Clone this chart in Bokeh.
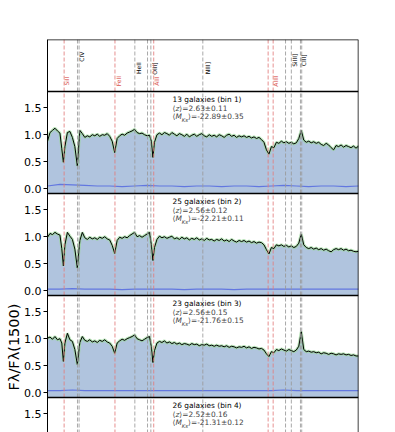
import math
from bokeh.plotting import figure
from bokeh.models import Range1d, Label, Span, FixedTicker, ColumnDataSource, Title
from bokeh.transform import dodge
from bokeh.embed import file_html
from bokeh.resources import INLINE
from bokeh.core.properties import value

# ---------------- data ----------------
wave = [1500, 1504, 1508, 1512, 1516, 1520, 1523, 1525.5, 1528, 1532,
        1536, 1540, 1544, 1548, 1552, 1556, 1560, 1564, 1568, 1572,
        1576, 1580, 1584, 1588, 1592, 1596, 1600, 1604, 1608, 1612,
        1616, 1620, 1624, 1628, 1632, 1636, 1640, 1644, 1648, 1652,
        1656, 1660, 1664, 1667, 1669.5, 1672, 1676, 1680, 1684, 1688,
        1692, 1696, 1700, 1704, 1708, 1712, 1716, 1720, 1724, 1728,
        1732, 1736, 1740, 1744, 1748, 1752, 1756, 1760, 1764, 1768,
        1772, 1776, 1780, 1784, 1788, 1792, 1796, 1800, 1804, 1808,
        1812, 1816, 1820, 1824, 1828, 1832, 1836, 1840, 1844, 1848,
        1852, 1856, 1860, 1864, 1868, 1872, 1876, 1880, 1884, 1888,
        1892, 1896, 1900, 1904, 1908, 1912, 1916, 1920, 1924, 1928,
        1932, 1936, 1940, 1944, 1948, 1952, 1956, 1960, 1964, 1968,
        1972, 1976, 1980, 1984, 1988, 1992, 1996, 2000]

flux_bin1 = [0.88, 1.04, 1.08, 1.12, 1.07, 1.03, 0.74, 0.49, 0.78, 1.04,
             1.06, 0.95, 0.78, 0.42, 1.08, 1.02, 0.95, 0.98, 0.96, 1.00,
             0.98, 1.01, 0.97, 1.00, 0.99, 1.02, 0.97, 0.88, 0.67, 0.93,
             0.98, 1.01, 0.99, 1.03, 1.05, 1.07, 1.10, 1.04, 1.02, 1.03,
             1.00, 0.98, 0.99, 0.88, 0.58, 0.86, 1.00, 1.03, 1.00, 1.04,
             1.02, 0.99, 1.04, 1.01, 0.98, 1.02, 1.00, 0.97, 1.01, 0.96,
             0.99, 1.01, 0.97, 1.00, 1.02, 0.98, 0.96, 1.00, 0.97, 0.99,
             0.96, 1.00, 0.98, 0.95, 0.99, 1.01, 0.97, 0.99, 0.95, 0.98,
             0.96, 0.98, 0.95, 0.97, 0.94, 0.96, 0.93, 0.95, 0.91, 0.86,
             0.72, 0.64, 0.78, 0.76, 0.86, 0.84, 0.88, 0.85, 0.87, 0.84,
             0.86, 0.83, 0.85, 0.93, 1.08, 0.90, 0.86, 0.88, 0.85, 0.87,
             0.84, 0.86, 0.82, 0.80, 0.84, 0.81, 0.76, 0.72, 0.80, 0.78,
             0.81, 0.77, 0.80, 0.78, 0.76, 0.79, 0.75, 0.79]

flux_bin2 = [0.99, 1.06, 1.04, 1.08, 1.05, 1.03, 0.78, 0.46, 0.85, 1.08,
             1.01, 0.95, 0.77, 0.42, 0.93, 1.08, 0.98, 0.95, 0.99, 0.96,
             0.98, 0.95, 0.99, 0.97, 1.00, 0.96, 0.94, 0.84, 0.69, 0.93,
             0.99, 0.97, 1.00, 0.98, 1.02, 1.05, 1.08, 1.00, 1.02, 0.99,
             1.02, 1.05, 1.08, 0.85, 0.56, 0.80, 0.95, 1.01, 0.98, 1.00,
             0.97, 0.99, 1.01, 0.96, 0.98, 0.95, 0.99, 0.96, 0.98, 0.94,
             0.97, 0.95, 0.98, 0.94, 0.96, 0.93, 0.97, 0.94, 0.95, 0.92,
             0.95, 0.93, 0.96, 0.92, 0.94, 0.91, 0.95, 0.92, 0.90, 0.93,
             0.91, 0.93, 0.90, 0.92, 0.89, 0.91, 0.88, 0.90, 0.89, 0.85,
             0.76, 0.68, 0.80, 0.78, 0.85, 0.83, 0.85, 0.82, 0.84, 0.81,
             0.83, 0.80, 0.82, 0.88, 1.05, 0.85, 0.80, 0.78, 0.80, 0.77,
             0.79, 0.76, 0.78, 0.75, 0.77, 0.74, 0.72, 0.76, 0.78, 0.76,
             0.78, 0.75, 0.77, 0.74, 0.75, 0.73, 0.72, 0.73]

flux_bin3 = [1.01, 1.03, 0.99, 1.04, 0.98, 1.00, 0.92, 0.58, 0.92, 1.10,
             0.98, 0.95, 0.80, 0.52, 0.93, 1.04, 0.97, 0.95, 0.98, 0.94,
             0.96, 0.93, 0.97, 0.95, 0.98, 0.94, 0.92, 0.86, 0.73, 0.92,
             0.96, 0.99, 0.97, 1.00, 1.02, 1.04, 1.07, 1.00, 0.98, 0.96,
             0.99, 1.02, 1.04, 0.85, 0.56, 0.78, 0.92, 0.95, 0.93, 0.96,
             0.92, 0.94, 0.91, 0.93, 0.90, 0.92, 0.89, 0.91, 0.90, 0.88,
             0.91, 0.89, 0.90, 0.87, 0.89, 0.88, 0.90, 0.87, 0.88, 0.86,
             0.88, 0.86, 0.87, 0.85, 0.87, 0.84, 0.86, 0.85, 0.83, 0.85,
             0.84, 0.86, 0.83, 0.85, 0.82, 0.84, 0.83, 0.81, 0.82, 0.79,
             0.72, 0.67, 0.76, 0.74, 0.80, 0.78, 0.81, 0.79, 0.77, 0.80,
             0.78, 0.76, 0.79, 0.86, 1.13, 0.80, 0.76, 0.77, 0.75, 0.76,
             0.74, 0.75, 0.72, 0.74, 0.73, 0.71, 0.73, 0.72, 0.70, 0.72,
             0.71, 0.72, 0.70, 0.71, 0.69, 0.70, 0.68, 0.68]

noise_wave = [1500, 1520, 1540, 1560, 1580, 1600, 1620, 1640, 1660, 1680,
              1700, 1720, 1740, 1760, 1780, 1800, 1820, 1840, 1860, 1880,
              1900, 1920, 1940, 1960, 1980, 2000]
noise_bin1 = [0.05, 0.08, 0.07, 0.06, 0.05, 0.05, 0.04, 0.05, 0.06, 0.05,
              0.05, 0.04, 0.05, 0.05, 0.04, 0.05, 0.05, 0.04, 0.05, 0.06,
              0.05, 0.04, 0.05, 0.05, 0.04, 0.05]
noise_bin2 = [0.03, 0.03, 0.04, 0.03, 0.03, 0.03, 0.02, 0.03, 0.03, 0.03,
              0.03, 0.02, 0.03, 0.03, 0.03, 0.02, 0.03, 0.03, 0.03, 0.03,
              0.03, 0.03, 0.03, 0.03, 0.03, 0.03]
noise_bin3 = [0.04, 0.04, 0.05, 0.04, 0.04, 0.04, 0.04, 0.04, 0.04, 0.04,
              0.04, 0.04, 0.04, 0.04, 0.04, 0.04, 0.04, 0.04, 0.04, 0.05,
              0.04, 0.04, 0.04, 0.04, 0.04, 0.04]

red_lines = [1526.71, 1608.45, 1670.79, 1854.72, 1862.79]
grey_lines = [1548.19, 1550.77, 1640.42, 1660.81, 1666.15, 1749.7,
              1882.7, 1892.03, 1906.68, 1908.73]

label_names = ["SiII", "CIV", "FeII", "HeII", "OIII]", "AlII", "NIII]", "AlIII", "SiIII]", "CIII]"]
label_wave = [1531, 1554, 1614, 1646, 1672, 1676, 1757, 1867, 1897, 1912]
label_pos = [0.2, 0.67, 0.2, 0.45, 0.44, 0.2, 0.45, 0.2, 0.6, 0.6]
label_is_red = [True, False, True, False, False, True, False, True, False, False]

n_gal = [13, 25, 23, 26]
z_mean = ["2.63", "2.56", "2.56", "2.52"]
z_err = ["0.11", "0.12", "0.15", "0.16"]
mks_mean = ["-22.89", "-22.21", "-21.76", "-21.31"]
mks_err = ["0.35", "0.11", "0.15", "0.12"]

y_ticks = [0.0, 0.5, 1.0, 1.5]
y_title = "Fλ/Fλ(1500)"

# ---------------- layout / styling ----------------
FONT = "DejaVu Sans"
RED = "#e27c7c"
GREY = "#9a9a9a"
FILL = "#b0c4de"
PX = 54.0                 # pixels per flux unit
PANEL_TOP = 1.8           # flux value at top of a panel
PANEL_BOT = PANEL_TOP - 102 / PX
STEP = 102 / PX           # panel-to-panel offset
LABEL_H = 52 / PX         # height of the line-label strip
Y_TOP = PANEL_TOP + LABEL_H
FRAME_H = 393
Y_BOT = Y_TOP - FRAME_H / PX

p = figure(width=380, height=432,
           x_range=Range1d(1500, 2000), y_range=Range1d(Y_BOT, Y_TOP),
           x_axis_location=None, y_axis_location="left",
           toolbar_location=None, output_backend="svg",
           min_border_left=47, min_border_right=22,
           min_border_top=39, min_border_bottom=0,
           outline_line_color=None,
           background_fill_color="white", border_fill_color="white")
p.grid.visible = False

# y axis: ticks of every panel, labelled with flux values
tick_pos = []
overrides = {}
for k in range(4):
    for t in y_ticks:
        pos = t - k * STEP
        tick_pos.append(pos)
        overrides[pos] = f"{t:.1f}"
ax = p.yaxis[0]
ax.ticker = FixedTicker(ticks=tick_pos)
ax.major_label_overrides = overrides
ax.major_label_text_font = FONT
ax.major_label_text_font_size = "11px"
ax.major_label_text_color = "black"
ax.major_tick_out = 4
ax.major_tick_in = 0
ax.minor_tick_out = 0
ax.minor_tick_in = 0
ax.major_label_standoff = 2
ax.axis_line_color = "black"
ax.major_tick_line_color = "black"

# y-axis title, placed beside the third panel
p.add_layout(Title(text=y_title, align="left", offset=42, standoff=0,
                   text_font=FONT, text_font_size="14.5px",
                   text_font_style="normal", text_color="black"), "left")

# spectra panels
spectra = [(flux_bin1, noise_bin1), (flux_bin2, noise_bin2), (flux_bin3, noise_bin3)]
for k, (flux, noise) in enumerate(spectra):
    off = -k * STEP
    src = ColumnDataSource(dict(wave=wave, flux=flux))
    p.varea(x="wave", y1=PANEL_BOT + off, y2=dodge("flux", off), source=src,
            fill_color=FILL, fill_alpha=1.0)

# line markers across everything
for w in red_lines:
    p.add_layout(Span(location=w, dimension="height", line_color=RED,
                      line_dash="4 2", line_width=1, line_alpha=0.85))
for w in grey_lines:
    p.add_layout(Span(location=w, dimension="height", line_color=GREY,
                      line_dash="4 2", line_width=1, line_alpha=0.85))

for k, (flux, noise) in enumerate(spectra):
    off = -k * STEP
    src = ColumnDataSource(dict(wave=wave, flux=flux))
    nsrc = ColumnDataSource(dict(wave=noise_wave, noise=noise))
    p.line(x="wave", y=dodge("noise", off), source=nsrc,
           line_color="#5a6fe0", line_width=1.2, line_alpha=0.9)
    p.line(x="wave", y=dodge("flux", off), source=src,
           line_color="#9bd89b", line_width=3, line_alpha=0.7)
    p.line(x="wave", y=dodge("flux", off), source=src,
           line_color="black", line_width=1)

# panel borders
p.add_layout(Span(location=Y_TOP, dimension="width", line_color="black", line_width=1.5))
for k in range(4):
    p.add_layout(Span(location=PANEL_TOP - k * STEP, dimension="width",
                      line_color="black", line_width=1.5))
p.add_layout(Span(location=2000, dimension="height", line_color="black", line_width=1.5))

# line names in the top strip
p.text(x=label_wave, y=[PANEL_TOP + v * LABEL_H for v in label_pos], text=label_names,
       text_color=["#d9534f" if r else "black" for r in label_is_red],
       angle=math.pi / 2, text_font=value(FONT), text_font_size="6px",
       text_align="center", text_baseline="middle")


def annotate(k):
    top = PANEL_TOP - k * STEP
    xa = 1701
    fs = "7.4px"
    p.add_layout(Label(x=xa, y=top - 12.7 / PX,
                       text=f"{n_gal[k]} galaxies (bin {k + 1})",
                       text_font=FONT, text_font_size=fs, text_color="black"))
    y2 = top - 21.3 / PX
    p.add_layout(Label(x=xa, y=y2, text="⟨", text_font=FONT, text_font_size=fs))
    p.add_layout(Label(x=xa, y=y2, x_offset=2.9, text="z", text_font=FONT,
                       text_font_size=fs, text_font_style="italic"))
    p.add_layout(Label(x=xa, y=y2, x_offset=6.8,
                       text=f"⟩={z_mean[k]}±{z_err[k]}",
                       text_font=FONT, text_font_size=fs))
    y3 = top - 29.5 / PX
    p.add_layout(Label(x=xa, y=y3, text="⟨", text_font=FONT, text_font_size=fs))
    p.add_layout(Label(x=xa, y=y3, x_offset=2.9, text="M", text_font=FONT,
                       text_font_size=fs, text_font_style="italic"))
    p.add_layout(Label(x=xa, y=y3, x_offset=9.3, y_offset=-1.6, text="Ks",
                       text_font=FONT, text_font_size="5.3px",
                       text_font_style="italic"))
    p.add_layout(Label(x=xa, y=y3, x_offset=15.6,
                       text=f"⟩={mks_mean[k]}±{mks_err[k]}",
                       text_font=FONT, text_font_size=fs))


for k in range(4):
    annotate(k)

open("out.html", "w").write(file_html(p, INLINE))
